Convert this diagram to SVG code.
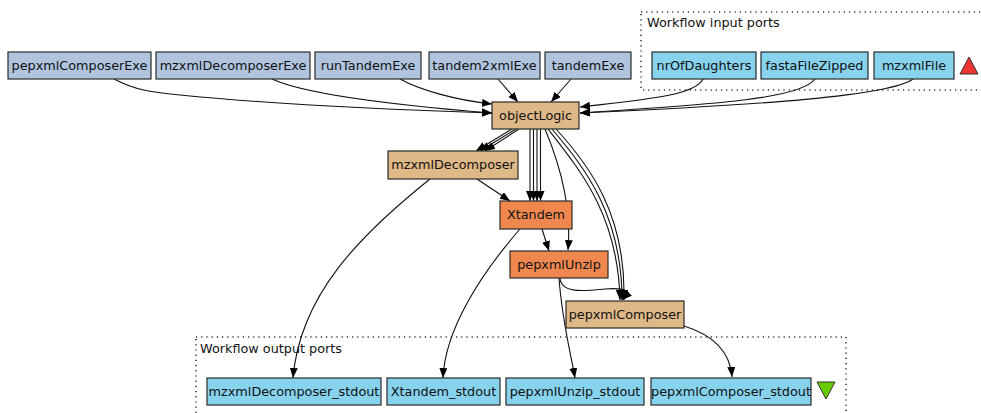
<svg xmlns="http://www.w3.org/2000/svg" width="981" height="413" viewBox="0 0 981 413">
  <style>
    text { font-family: "DejaVu Sans", "Noto Sans", sans-serif; font-size: 12.8px; fill: #111; }
    .node rect { stroke: #2a2a2a; stroke-width: 1.2; }
    .exe rect { fill: #b0c4de; }
    .port rect { fill: #87d3ee; }
    .bean rect { fill: #deb887; }
    .tool rect { fill: #f0874f; }
    .cluster { fill: none; stroke: #333; stroke-width: 1.6; stroke-dasharray: 1.2 4; }
    #edges path { fill: none; stroke: #111; stroke-width: 1.1; marker-end: url(#arrow); }
  </style>
  <defs>
    <marker id="arrow" markerUnits="userSpaceOnUse" markerWidth="11" markerHeight="9" refX="10" refY="4" orient="auto">
      <path d="M0,0 L10,4 L0,8 z" fill="#000"/>
    </marker>
  </defs>
  <rect width="981" height="413" fill="#fff"/>

  <!-- clusters -->
  <g id="cluster_inputs">
    <rect class="cluster" x="641" y="12" width="350" height="78"/>
    <text x="647" y="27">Workflow input ports</text>
  </g>
  <g id="cluster_outputs">
    <rect class="cluster" x="196" y="337" width="650" height="90"/>
    <text x="200" y="353">Workflow output ports</text>
  </g>

  <!-- connectors -->
  <g id="edges">
    <path d="M114,79 C135,90 150,92 180,95 C280,105 400,110 492,113"/>
    <path d="M272,79 C300,92 380,104 492,113"/>
    <path d="M400,79 C420,90 455,100 492,104"/>
    <path d="M498,79 L518,102"/>
    <path d="M571,79 L551,102"/>
    <path d="M703,79 C695,96 640,100 580,107"/>
    <path d="M815,79 C800,100 700,105 580,113"/>
    <path d="M913,79 C890,96 760,105 580,113"/>
    <path d="M512,129 L476,151"/>
    <path d="M516,129 L480,151"/>
    <path d="M519,129 L485,151"/>
    <path d="M530,129 L530,201"/>
    <path d="M533.5,129 L533.5,201"/>
    <path d="M537,129 L537,201"/>
    <path d="M540.5,129 L540.5,201"/>
    <path d="M545,129 C558,160 572,205 568,250"/>
    <path d="M548,129 C580,170 618,215 620,300"/>
    <path d="M552,129 C585,168 622,215 622,300"/>
    <path d="M556,129 C590,166 626,215 624,300"/>
    <path d="M560,278 C561,294 585,291 605,289 C618,288 630,289 628,295 C627,298 624,298 622,300"/>
    <path d="M542,229 L549,251"/>
    <path d="M477,179 L510,201"/>
    <path d="M430,179 C360,235 300,295 293,378"/>
    <path d="M520,229 C480,275 445,330 443,378"/>
    <path d="M559,278 C562,320 570,350 575,378"/>
    <path d="M684,326 C710,334 730,350 732,377"/>
  </g>

  <!-- executable inputs -->
  <g id="pepxmlComposerExe" class="node exe"><rect x="8" y="52" width="143" height="27"/><text x="79.5" y="70" text-anchor="middle">pepxmlComposerExe</text></g>
  <g id="mzxmlDecomposerExe" class="node exe"><rect x="156" y="52" width="154" height="27"/><text x="233" y="70" text-anchor="middle">mzxmlDecomposerExe</text></g>
  <g id="runTandemExe" class="node exe"><rect x="315" y="52" width="106" height="27"/><text x="368" y="70" text-anchor="middle">runTandemExe</text></g>
  <g id="tandem2xmlExe" class="node exe"><rect x="429" y="52" width="111" height="27"/><text x="484.5" y="70" text-anchor="middle">tandem2xmlExe</text></g>
  <g id="tandemExe" class="node exe"><rect x="545" y="52" width="86" height="27"/><text x="588" y="70" text-anchor="middle">tandemExe</text></g>

  <!-- workflow inputs -->
  <g id="nrOfDaughters" class="node port"><rect x="652" y="52" width="104" height="27"/><text x="704" y="70" text-anchor="middle">nrOfDaughters</text></g>
  <g id="fastaFileZipped" class="node port"><rect x="761" y="52" width="107" height="27"/><text x="814.5" y="70" text-anchor="middle">fastaFileZipped</text></g>
  <g id="mzxmlFile" class="node port"><rect x="874" y="52" width="80" height="27"/><text x="914" y="70" text-anchor="middle">mzxmlFile</text></g>
  <g id="inputs_marker"><polygon points="969,57 978,74 960,74" fill="#ee3333" stroke="#333" stroke-width="1"/></g>

  <!-- processors -->
  <g id="objectLogic" class="node bean"><rect x="492" y="102" width="87" height="27"/><text x="535.5" y="120" text-anchor="middle">objectLogic</text></g>
  <g id="mzxmlDecomposer" class="node bean"><rect x="388" y="151" width="130" height="28"/><text x="453" y="169" text-anchor="middle">mzxmlDecomposer</text></g>
  <g id="Xtandem" class="node tool"><rect x="500" y="201" width="72" height="28"/><text x="536" y="219" text-anchor="middle">Xtandem</text></g>
  <g id="pepxmlUnzip" class="node tool"><rect x="510" y="251" width="98" height="27"/><text x="559" y="269" text-anchor="middle">pepxmlUnzip</text></g>
  <g id="pepxmlComposer" class="node bean"><rect x="566" y="301" width="118" height="27"/><text x="625" y="319" text-anchor="middle">pepxmlComposer</text></g>

  <!-- workflow outputs -->
  <g id="mzxmlDecomposer_stdout" class="node port"><rect x="207" y="378" width="174" height="27"/><text x="294" y="396" text-anchor="middle">mzxmlDecomposer_stdout</text></g>
  <g id="Xtandem_stdout" class="node port"><rect x="387" y="378" width="113" height="27"/><text x="443.5" y="396" text-anchor="middle">Xtandem_stdout</text></g>
  <g id="pepxmlUnzip_stdout" class="node port"><rect x="506" y="378" width="138" height="27"/><text x="575" y="396" text-anchor="middle">pepxmlUnzip_stdout</text></g>
  <g id="pepxmlComposer_stdout" class="node port"><rect x="651" y="378" width="160" height="27"/><text x="731" y="396" text-anchor="middle">pepxmlComposer_stdout</text></g>
  <g id="outputs_marker"><polygon points="817,382 835,382 826,399" fill="#66cc00" stroke="#333" stroke-width="1"/></g>
</svg>
